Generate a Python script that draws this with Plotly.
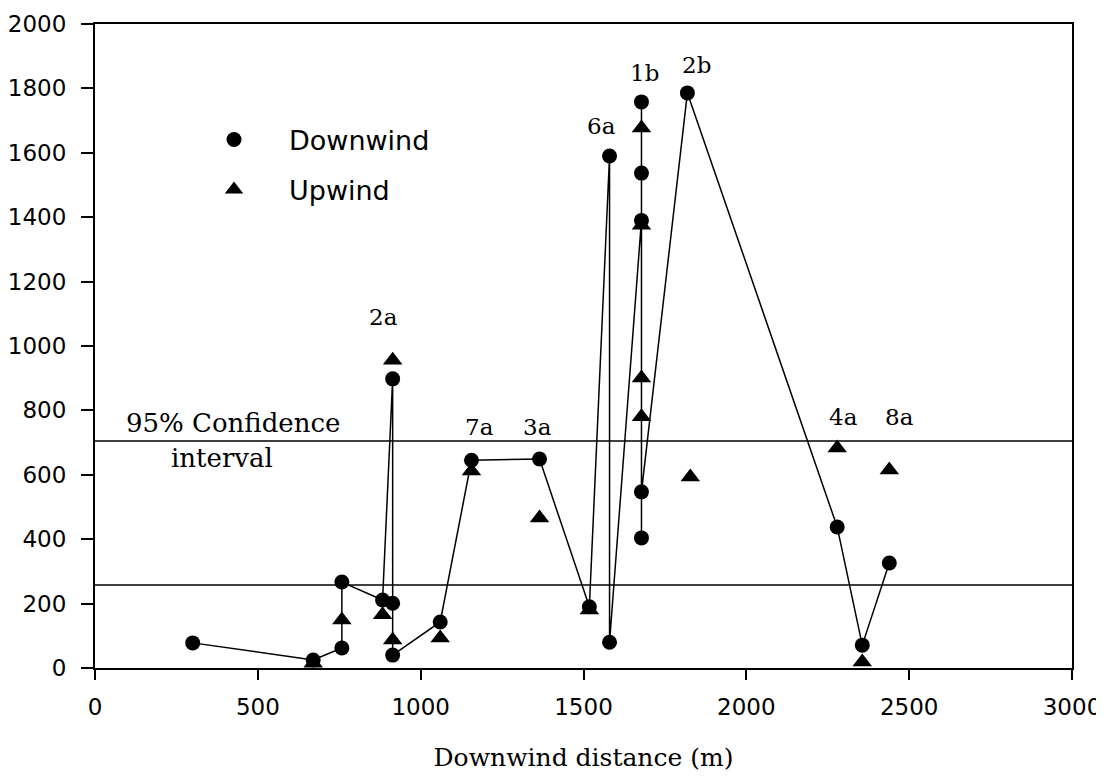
import plotly.graph_objects as go

# Downwind points, in the order the line joins them
dw_x = [300, 670, 758, 758, 883, 914, 914, 914, 1060, 1156, 1365, 1518, 1580, 1580,
        1678, 1678, 1678, 1678, 1678, 1819, 2279, 2356, 2439]
dw_y = [78, 25, 62, 267, 211, 898, 201, 40, 143, 645, 649, 190, 1590, 80,
        1390, 1758, 1537, 404, 547, 1786, 438, 71, 326]

# Upwind points (markers only)
uw_x = [670, 758, 883, 914, 914, 1060, 1156, 1365, 1518, 1678, 1678, 1678, 1678, 1828, 2279, 2356, 2439]
uw_y = [15, 149, 165, 956, 87, 93, 612, 466, 180, 1677, 1375, 901, 780, 593, 683, 19, 615]

# 95% confidence interval limits
ci_low = 258
ci_high = 705

# Site labels
lab_text = ["2a", "6a", "1b", "2b", "7a", "3a", "4a", "8a"]
lab_x = [887, 1555, 1687, 1847, 1181, 1359, 2297, 2469]
lab_y = [1090, 1683, 1848, 1873, 748, 748, 780, 780]

x_ticks = [0, 500, 1000, 1500, 2000, 2500, 3000]
y_ticks = [0, 200, 400, 600, 800, 1000, 1200, 1400, 1600, 1800, 2000]

SANS = "DejaVu Sans"
SERIF = "DejaVu Serif"

fig = go.Figure()

# confidence lines
for v in (ci_low, ci_high):
    fig.add_trace(go.Scatter(x=[0, 3000], y=[v, v], mode="lines",
                             line=dict(color="black", width=1.5),
                             showlegend=False, hoverinfo="skip"))

# line joining downwind points
fig.add_trace(go.Scatter(x=dw_x, y=dw_y, mode="lines",
                         line=dict(color="black", width=1.5),
                         showlegend=False, hoverinfo="skip"))

fig.add_trace(go.Scatter(x=dw_x, y=dw_y, mode="markers", name="Downwind",
                         legendgroup="d",
                         marker=dict(symbol="circle", size=15, color="black")))
fig.add_trace(go.Scatter(x=uw_x, y=uw_y, mode="markers", name="Upwind",
                         legendgroup="u",
                         marker=dict(symbol="triangle-up", size=17, color="black")))

for t, x, y in zip(lab_text, lab_x, lab_y):
    fig.add_annotation(x=x, y=y, text=t, showarrow=False,
                       font=dict(family=SERIF, size=23, color="black"))

fig.add_annotation(x=423, y=761, text="95% Confidence", showarrow=False,
                   font=dict(family=SERIF, size=26, color="black"))
fig.add_annotation(x=390, y=652, text="interval", showarrow=False,
                   font=dict(family=SERIF, size=26, color="black"))

# the page body adds an 8px offset, so margins are shifted to compensate
fig.update_layout(
    width=1104, height=779,
    margin=dict(l=87, r=40, t=16, b=119),
    paper_bgcolor="white", plot_bgcolor="white",
    showlegend=True,
    legend=dict(x=0.086, y=0.858, xanchor="left", yanchor="top",
                font=dict(family=SANS, size=27, color="black"),
                itemwidth=100, tracegroupgap=12, bgcolor="rgba(0,0,0,0)"),
    xaxis=dict(range=[0, 3000], tickvals=x_ticks, showgrid=False, zeroline=False,
               automargin=False,
               showline=True, linecolor="black", linewidth=2, mirror=True,
               ticks="outside", ticklen=10, tickwidth=2, tickcolor="black",
               ticklabelstandoff=7,
               tickfont=dict(family=SANS, size=23, color="black"),
               title=dict(text="Downwind distance (m)", standoff=30,
                          font=dict(family=SERIF, size=25, color="black"))),
    yaxis=dict(range=[0, 2000], tickvals=y_ticks, showgrid=False, zeroline=False,
               automargin=False,
               showline=True, linecolor="black", linewidth=2, mirror=True,
               ticks="outside", ticklen=12, tickwidth=2, tickcolor="black",
               ticklabelstandoff=10,
               tickfont=dict(family=SANS, size=23, color="black")),
)

fig.write_html("out.html")
